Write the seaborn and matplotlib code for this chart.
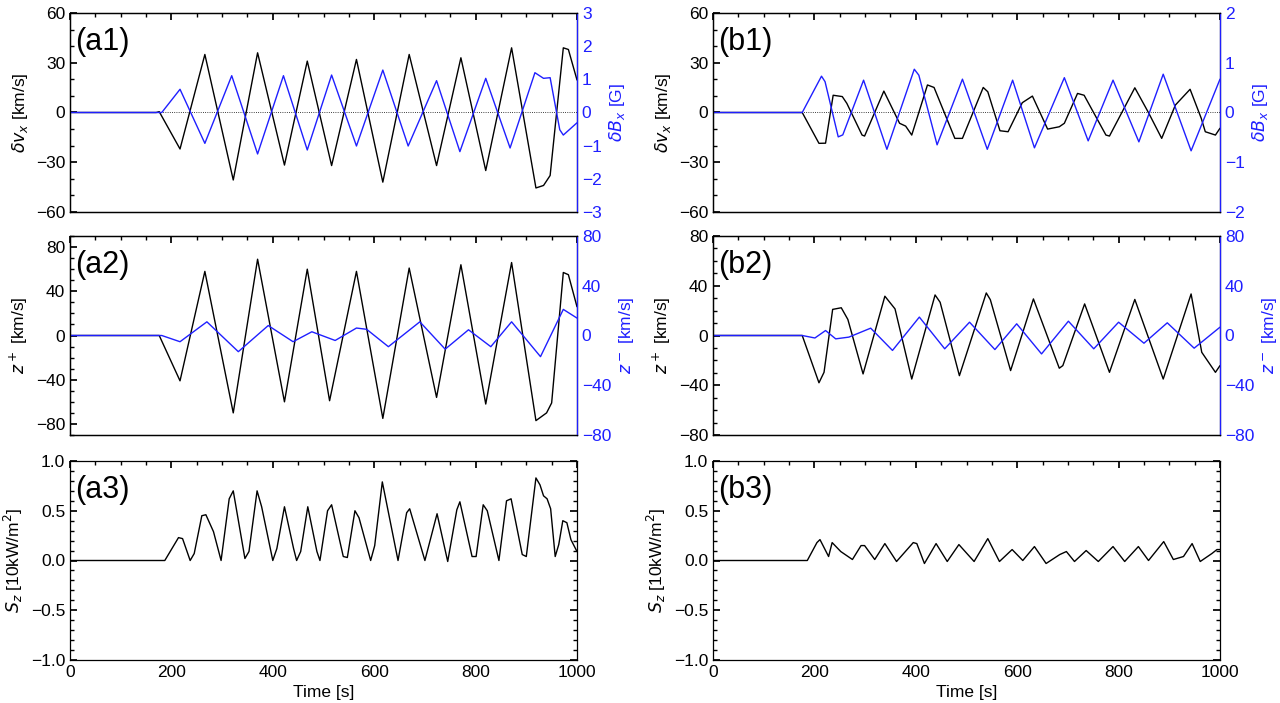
import numpy as np
import pandas as pd
import matplotlib
matplotlib.use("Agg")
import matplotlib.pyplot as plt
import matplotlib.ticker as ticker
import seaborn as sns

sns.set_theme(style="white")
plt.rcParams.update({
    "font.family": ["Liberation Sans", "DejaVu Sans"],
    "mathtext.fontset": "dejavusans",
    "font.size": 12.5, "xtick.labelsize": 12.5, "ytick.labelsize": 12.5,
    "axes.labelsize": 12.5,
    "axes.linewidth": 0.9, "axes.edgecolor": "black",
    "text.color": "black", "axes.labelcolor": "black",
    "xtick.color": "black", "ytick.color": "black",
})

# ---- (a1) delta v_x [km/s] and delta B_x [G]
a1_vx_t = [0, 170, 176, 217, 266, 322, 370, 423, 468, 516, 565, 617, 669, 723, 771, 820, 871, 919, 934, 947, 973, 983, 1000]
a1_vx = [0, 0, 0.5, -22, 35, -40.7, 36, -31.7, 31, -32, 32, -42, 35, -32, 33, -35, 39, -45.5, -44, -38, 39, 38, 19.6]
a1_bx_t = [0, 181, 217, 266, 319, 370, 421, 468, 516, 565, 617, 667, 723, 769, 820, 868, 917, 934, 947, 966, 973, 1000]
a1_bx = [0, 0, 0.70, -0.93, 1.11, -1.25, 1.11, -1.13, 1.13, -1.01, 1.28, -1.01, 0.96, -1.18, 1.03, -1.07, 1.2, 1.03, 1.05, -0.52, -0.68, -0.31]

# ---- (a2) z+ and z- [km/s]
a2_zp_t = [0, 176, 217, 266, 322, 370, 423, 468, 512, 565, 617, 669, 723, 771, 820, 871, 919, 940, 950, 973, 983, 1000]
a2_zp = [0, 0, -41, 58, -70, 69, -60, 60, -59, 58, -75, 61, -56, 64, -62, 66, -77, -70, -61, 57, 55, 26]
a2_zm_t = [0, 181, 217, 270, 332, 391, 440, 477, 523, 565, 585, 628, 690, 740, 786, 830, 871, 928, 973, 1000]
a2_zm = [0, 0, -5, 11, -13, 8, -5, 3, -4, 6, 5, -9, 11, -11, 4.6, -9, 11, -17, 21, 14]

# ---- (a3) S_z [10kW/m^2]
a3_t = [0, 187, 214, 222, 237, 245, 260, 268, 283, 298, 314, 322, 345, 353, 369, 378, 400, 408, 423,
        441, 447, 455, 469, 487, 493, 508, 516, 539, 547, 562, 570, 593, 601, 616, 647, 664, 670, 700,
        724, 745, 763, 769, 793, 801, 815, 823, 846, 861, 870, 892, 900, 919, 927, 934, 941, 948, 957,
        964, 972, 980, 988, 1000]
a3_sz = [0, 0, 0.23, 0.22, 0.0, 0.07, 0.45, 0.46, 0.29, 0, 0.62, 0.70, 0.02, 0.09, 0.70, 0.54, 0, 0.12, 0.54,
         0.12, 0, 0.09, 0.54, 0.09, 0, 0.50, 0.56, 0.04, 0.03, 0.50, 0.43, 0, 0.15, 0.79, 0, 0.48, 0.52, 0,
         0.47, -0.01, 0.51, 0.59, 0.04, 0.04, 0.56, 0.50, 0, 0.60, 0.62, 0.06, 0.04, 0.83, 0.76, 0.65, 0.62, 0.52, 0.04,
         0.16, 0.40, 0.38, 0.21, 0.09]

# ---- (b1)
b1_vx_t = [0, 176, 209, 222, 237, 255, 264, 294, 299, 337, 368, 380, 392, 423, 436, 477, 492, 533, 542, 566,
           582, 610, 630, 660, 683, 693, 719, 732, 775, 782, 832, 859, 885, 912, 941, 963, 971, 991, 1000]
b1_vx = [0, 0, -18.6, -18.5, 10.4, 9.6, 5.5, -13.6, -14.2, 12.9, -6.5, -8.2, -13.6, 16.6, 15.1, -15.6, -15.6, 15.1, 12.5, -11,
         -11.6, 5.9, 9.9, -10, -8.6, -6.5, 11.5, 10.4, -13.6, -14.2, 14.9, -0.1, -15.6, 4.5, 14.0, -3.5, -11.6, -13.6, -9.5]
b1_bx_t = [0, 176, 214, 221, 247, 256, 297, 343, 397, 406, 442, 492, 541, 591, 634, 693, 740, 789, 840, 888, 943, 1000]
b1_bx = [0, 0, 0.73, 0.62, -0.49, -0.45, 0.65, -0.74, 0.87, 0.75, -0.65, 0.67, -0.74, 0.65, -0.71, 0.70, -0.57, 0.65, -0.59, 0.77, -0.77, 0.67]

# ---- (b2)
b2_zp_t = [0, 176, 209, 219, 236, 253, 266, 296, 339, 359, 392, 438, 448, 486, 539, 547, 587, 632, 683, 690,
           733, 782, 832, 888, 943, 964, 991, 1000]
b2_zp = [0, 0, -38, -29.6, 21, 22.3, 12.9, -30.9, 31.6, 21.4, -35, 32.6, 26.7, -32.3, 34.2, 28.8, -28.2, 29.4, -26.3, -24.2,
         25.4, -29.6, 29, -35, 33.4, -13.5, -29.6, -24.2]
b2_zm_t = [0, 176, 201, 222, 242, 268, 311, 354, 407, 457, 506, 556, 599, 648, 701, 751, 800, 850, 896, 949, 1000]
b2_zm = [0, 0, -2, 4, -2.7, -1.3, 5.9, -12, 14.8, -10.7, 10.7, -11.3, 9.4, -14.8, 11.5, -10.7, 10.7, -6.2, 10.2, -10.2, 6.7]

# ---- (b3)
b3_t = [0, 186, 205, 211, 228, 235, 252, 275, 292, 299, 319, 339, 362, 395, 402, 417, 440, 462, 485, 515,
        542, 565, 590, 611, 634, 657, 684, 697, 713, 736, 760, 789, 812, 839, 859, 889, 908, 928, 945, 961,
        984, 994, 1000]
b3_sz = [0, 0, 0.18, 0.21, 0.04, 0.18, 0.09, 0.01, 0.15, 0.15, 0.01, 0.17, -0.01, 0.18, 0.17, -0.03, 0.17, -0.01, 0.16, -0.01,
         0.22, -0.01, 0.11, 0.0, 0.14, -0.03, 0.06, 0.09, -0.01, 0.10, -0.01, 0.14, -0.01, 0.14, 0.0, 0.19, 0.01, 0.04, 0.17, -0.01,
         0.07, 0.11, 0.11]

BLUE = "#1f1fff"
W, H = 507 / 1280, 199 / 703
LEFTS = [70 / 1280, 713 / 1280]
BOTTOMS = [1 - 212 / 703, 1 - 435 / 703, 1 - 660 / 703]


def style(ax, ymaj, ymin, right=False):
    ax.set_xlim(0, 1000)
    ax.xaxis.set_major_locator(ticker.MultipleLocator(200))
    ax.xaxis.set_minor_locator(ticker.MultipleLocator(50))
    ax.yaxis.set_major_locator(ticker.MultipleLocator(ymaj))
    ax.yaxis.set_minor_locator(ticker.MultipleLocator(ymin))
    ax.tick_params(which="both", direction="in", top=True, right=not right, left=not right,
                   labelleft=not right, labelright=right)
    ax.tick_params(which="major", length=5)
    ax.tick_params(which="minor", length=3)


def line(ax, t, v, color):
    sns.lineplot(x=t, y=v, ax=ax, color=color, lw=1.0, estimator=None, sort=False)


fig = plt.figure(figsize=(12.8, 7.03), dpi=100)
panels = [
    ("a", a1_vx_t, a1_vx, a1_bx_t, a1_bx, a2_zp_t, a2_zp, a2_zm_t, a2_zm, a3_t, a3_sz, (-3, 3), 1, (-90, 90)),
    ("b", b1_vx_t, b1_vx, b1_bx_t, b1_bx, b2_zp_t, b2_zp, b2_zm_t, b2_zm, b3_t, b3_sz, (-2, 2), 1, (-80, 80)),
]
for col, (p, vt, vx, bt, bx, zpt, zp, zmt, zm, st, sz, blim, bstep, zlim) in enumerate(panels):
    x0 = LEFTS[col]
    # row 1
    ax = fig.add_axes([x0, BOTTOMS[0], W, H])
    line(ax, vt, vx, "black")
    ax.axhline(0, color="black", lw=0.6, ls=":")
    ax.set_ylim(-60, 60)
    style(ax, 30, 10)
    ax.set_xticklabels([])
    ax.set_ylabel(r"$\delta v_x$ [km/s]")
    ax.text(0.01, 0.93, f"({p}1)", transform=ax.transAxes, fontsize=22, va="top")
    axr = ax.twinx()
    line(axr, bt, bx, BLUE)
    axr.set_ylim(*blim)
    style(axr, bstep, 0.25, right=True)
    axr.spines["right"].set_color(BLUE)
    axr.tick_params(which="both", colors=BLUE)
    axr.set_ylabel(r"$\delta B_x$ [G]", color=BLUE)
    # row 2
    ax = fig.add_axes([x0, BOTTOMS[1], W, H])
    line(ax, zpt, zp, "black")
    ax.set_ylim(*zlim)
    style(ax, 40, 10)
    ax.set_xticklabels([])
    ax.set_ylabel(r"$z^+$ [km/s]")
    ax.text(0.01, 0.93, f"({p}2)", transform=ax.transAxes, fontsize=22, va="top")
    axr = ax.twinx()
    line(axr, zmt, zm, BLUE)
    axr.set_ylim(-80, 80)
    style(axr, 40, 10, right=True)
    axr.spines["right"].set_color(BLUE)
    axr.tick_params(which="both", colors=BLUE)
    axr.set_ylabel(r"$z^-$ [km/s]", color=BLUE)
    # row 3
    ax = fig.add_axes([x0, BOTTOMS[2], W, H])
    line(ax, st, sz, "black")
    ax.set_ylim(-1, 1)
    style(ax, 0.5, 0.1)
    ax.set_ylabel(r"$S_z$ [10kW/m$^2$]")
    ax.set_xlabel("Time [s]")
    ax.text(0.01, 0.93, f"({p}3)", transform=ax.transAxes, fontsize=22, va="top")

fig.savefig("out.png", dpi=100)
